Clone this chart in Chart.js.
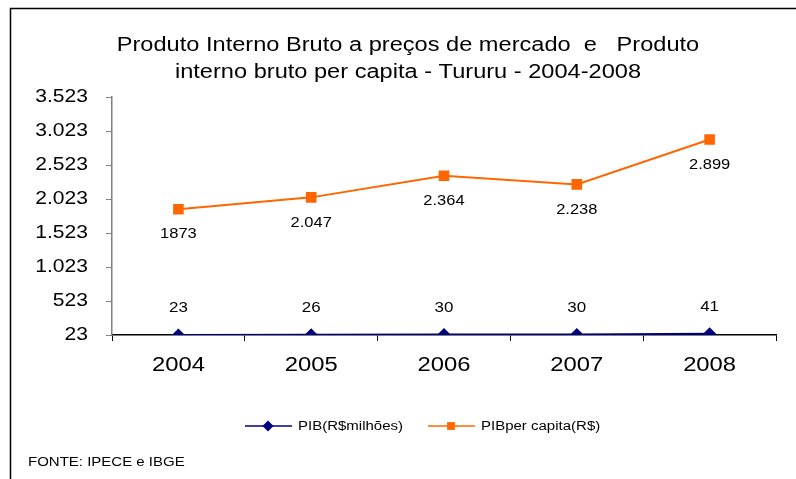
<!DOCTYPE html>
<html lang="pt">
<head>
<meta charset="UTF-8">
<title>PIB - Tururu</title>
<script src="https://cdn.jsdelivr.net/npm/chart.js"></script>
<style>
  html, body { margin: 0; padding: 0; background: #ffffff; }
  #wrap { width: 796px; height: 479px; }
</style>
</head>
<body>
<div id="wrap"><canvas id="grafico" width="796" height="479"></canvas></div>
<script>
// dados
const anos = ['2004', '2005', '2006', '2007', '2008'];
const pib = [23, 26, 30, 30, 41];
const pibPerCapita = [1873, 2047, 2364, 2238, 2899];
const pibRotulos = ['23', '26', '30', '30', '41'];
const perCapitaRotulos = ['1873', '2.047', '2.364', '2.238', '2.899'];
const yTicks = [23, 523, 1023, 1523, 2023, 2523, 3023, 3523];
const titulo = ['Produto Interno Bruto a preços de mercado  e   Produto', 'interno bruto per capita - Tururu - 2004-2008'];

const fonte = 'Arial, "Liberation Sans", sans-serif';

// o original tem o texto esticado na horizontal
function texto(ctx, t, x, y, sx) {
  ctx.save();
  ctx.translate(x, y);
  ctx.scale(sx, 1);
  ctx.fillText(t, 0, 0);
  ctx.restore();
}

// moldura, titulo, rotulos dos eixos, rotulos de dados, legenda e fonte
const extras = {
  id: 'extras',
  beforeDraw(chart) {
    const ctx = chart.ctx;
    ctx.save();
    ctx.strokeStyle = '#000';
    ctx.lineWidth = 1.5;
    ctx.strokeRect(10.5, 8.5, 900, 600);

    ctx.fillStyle = '#000';
    ctx.textBaseline = 'middle';
    ctx.textAlign = 'center';
    ctx.font = '20px ' + fonte;
    titulo.forEach((linha, i) => texto(ctx, linha, 408, 45 + i * 27, 1.18));
    ctx.restore();
  },
  afterDraw(chart) {
    const ctx = chart.ctx;
    const xs = chart.scales.x, ys = chart.scales.y;
    ctx.save();
    ctx.fillStyle = '#000';
    ctx.textBaseline = 'middle';

    // rotulos do eixo y
    ctx.font = '18px ' + fonte;
    ctx.textAlign = 'right';
    yTicks.forEach(v => texto(ctx, v.toLocaleString('pt-BR'), 88, ys.getPixelForValue(v), 1.17));

    // rotulos do eixo x
    ctx.font = '20px ' + fonte;
    ctx.textAlign = 'center';
    anos.forEach((a, i) => texto(ctx, a, xs.getPixelForValue(i), 365, 1.19));

    // rotulos de dados
    ctx.font = '15px ' + fonte;
    chart.getDatasetMeta(0).data.forEach((p, i) => {
      texto(ctx, pibRotulos[i], p.x, p.y - 27, 1.13);
    });
    chart.getDatasetMeta(1).data.forEach((p, i) => {
      texto(ctx, perCapitaRotulos[i], p.x, p.y + 25, 1.1);
    });

    // legenda
    ctx.font = '12.5px ' + fonte;
    ctx.textAlign = 'left';
    const itens = [
      { x: 245, ds: chart.data.datasets[0] },
      { x: 428, ds: chart.data.datasets[1] }
    ];
    itens.forEach(it => {
      const y = 426;
      ctx.strokeStyle = it.ds.borderColor;
      ctx.lineWidth = 1.5;
      ctx.beginPath();
      ctx.moveTo(it.x, y);
      ctx.lineTo(it.x + 47, y);
      ctx.stroke();
      ctx.fillStyle = it.ds.borderColor;
      Chart.helpers.drawPoint(ctx, { pointStyle: it.ds.pointStyle, radius: 5.5, borderWidth: 0 }, it.x + 23, y);
      ctx.fillStyle = '#000';
      texto(ctx, it.ds.label, it.x + 53, y + 1, 1.2);
    });

    texto(ctx, 'FONTE: IPECE e IBGE', 28, 463, 1.2);
    ctx.restore();
  }
};

new Chart(document.getElementById('grafico'), {
  type: 'line',
  data: {
    labels: anos,
    datasets: [
      {
        label: 'PIB(R$milhões)',
        data: pib,
        borderColor: '#000080',
        backgroundColor: '#000080',
        borderWidth: 2,
        pointStyle: 'rectRot',
        pointRadius: 6.5,
        pointBorderWidth: 0,
        tension: 0
      },
      {
        label: 'PIBper capita(R$)',
        data: pibPerCapita,
        borderColor: '#FF6600',
        backgroundColor: '#FF6600',
        borderWidth: 2,
        pointStyle: 'rect',
        pointRadius: 7.5,
        pointBorderWidth: 0,
        tension: 0
      }
    ]
  },
  options: {
    responsive: false,
    animation: false,
    layout: { padding: { left: 40, right: 20, top: 97, bottom: 99 } },
    plugins: {
      legend: { display: false },
      tooltip: { enabled: false },
      title: { display: false }
    },
    scales: {
      x: {
        offset: true,
        grid: { offset: true, drawOnChartArea: false, drawTicks: true, tickLength: 6, color: '#000' },
        border: { display: true, color: '#000', width: 1.5 },
        ticks: { display: false },
        afterFit(scale) { scale.height = 45; }
      },
      y: {
        min: 23,
        max: 3523,
        afterBuildTicks(scale) { scale.ticks = yTicks.map(v => ({ value: v })); },
        grid: { drawOnChartArea: false, drawTicks: true, tickLength: 6, color: '#808080' },
        border: { display: true, color: '#808080', width: 1.5 },
        ticks: { display: false },
        afterFit(scale) { scale.width = 72; }
      }
    }
  },
  plugins: [extras]
});
</script>
</body>
</html>
